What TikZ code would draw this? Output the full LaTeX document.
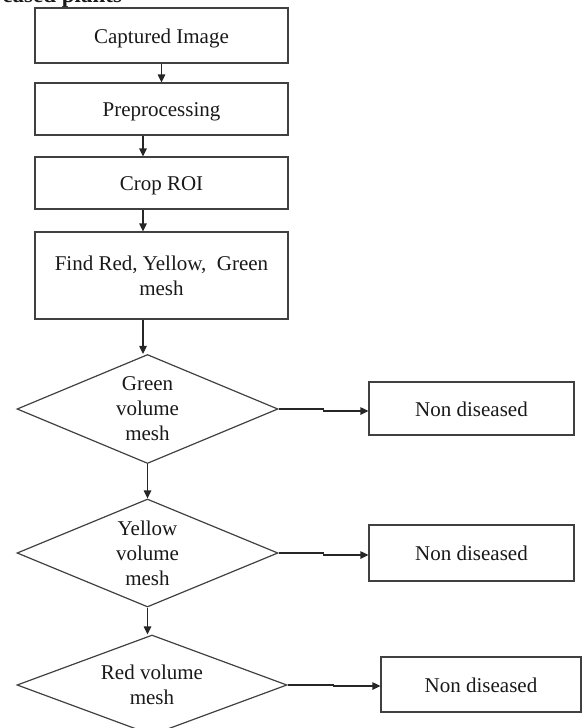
\documentclass[tikz,border=0pt]{standalone}
\usepackage{fontspec}
\setmainfont{Liberation Serif}
\usetikzlibrary{shapes.geometric,arrows.meta}
\begin{document}
\begin{tikzpicture}[x=1pt,y=-1pt,
  every node/.style={font=\fontsize{21}{25}\selectfont, text=black!90},
  procbox/.style={draw=black!75, line width=1.2pt, inner sep=0pt, align=center},
  oneline/.style={text height=15pt, text depth=0pt},
  decbox/.style={draw=black!75, line width=1.2pt, diamond, shape aspect=2.4, inner sep=0pt, align=center},
  arr/.style={draw=black!85, line width=1.2pt, -{Triangle[length=8pt,width=7.5pt]}}]
\useasboundingbox (0,0) rectangle (582,728);
\begin{scope}
\clip (0,0) rectangle (582,728);
\node[anchor=base west, font=\fontsize{23}{25}\selectfont\bfseries] (cap) at (-1,2.5) {eased plants};
% process boxes
\node[procbox, oneline, minimum width=253pt, minimum height=55pt] (c1) at (161.5,35.5) {Captured Image};
\node[procbox, oneline, minimum width=253pt, minimum height=52pt] (c2) at (161.5,109) {Preprocessing};
\node[procbox, oneline, minimum width=253pt, minimum height=52pt] (c3) at (161.5,183) {Crop ROI};
\node[procbox, minimum width=253pt, minimum height=87pt] (c4) at (161.5,275.5) {Find Red, Yellow,\ \ Green\\mesh};
% decisions
\node[decbox, minimum width=261pt, minimum height=109pt] (d1) at (147.5,409) {Green\\volume\\mesh};
\node[decbox, minimum width=261pt, minimum height=108pt] (d2) at (147.5,553) {Yellow\\volume\\mesh};
\node[decbox, minimum width=270pt, minimum height=100pt] (d3) at (152,685) {Red volume\\mesh};
% outcomes
\node[procbox, oneline, minimum width=205pt, minimum height=53pt] (n1) at (471.5,408.5) {Non diseased};
\node[procbox, oneline, minimum width=205pt, minimum height=56pt] (n2) at (471.5,553) {Non diseased};
\node[procbox, oneline, minimum width=200pt, minimum height=55pt] (n3) at (481,684.5) {Non diseased};
% vertical connectors
\draw[arr] (c1.south) -- (c2.north);
\draw[arr] ([xshift=-18.5pt]c2.south) -- ([xshift=-18.5pt]c3.north);
\draw[arr] ([xshift=-18.5pt]c3.south) -- ([xshift=-18.5pt]c4.north);
\draw[arr] ([xshift=-18.5pt]c4.south) -- ([xshift=-18.5pt]c4.south |- d1.north);
\draw[arr] (d1.south) -- (d2.north);
\draw[arr] (d2.south) -- (d2.south |- d3.north);
% horizontal connectors
\draw[arr] (d1.east) -- ++(45,0) |- ([yshift=-2.5pt]n1.west);
\draw[arr] (d2.east) -- ++(45,0) |- ([yshift=-2pt]n2.west);
\draw[arr] (d3.east) -- ++(46,0) |- ([yshift=-1.5pt]n3.west);
\end{scope}
\end{tikzpicture}
\end{document}
